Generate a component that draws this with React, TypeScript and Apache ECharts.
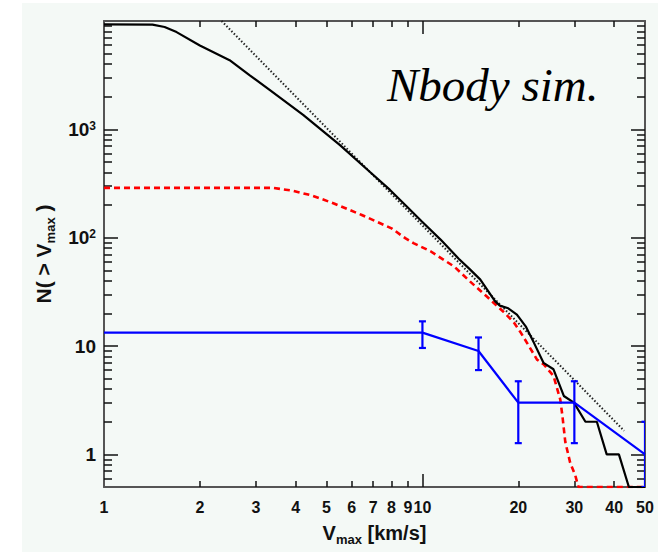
import React, { useEffect, useRef } from "react";
import * as echarts from "echarts";

// ---- axis ranges & ticks ----
const X_MIN = 1;
const X_MAX = 50;
const Y_MIN = 0.5;
const Y_MAX = 10000;
const xLabelValues = [1, 2, 3, 4, 5, 6, 7, 8, 9, 10, 20, 30, 40, 50];
const xMinorTicks = [2, 3, 4, 5, 6, 7, 8, 9, 20, 30, 40];
const xMajorTicks = [10];
const yLabelValues = [1, 10, 100, 1000];
const yMinorTicks = [
  0.6, 0.7, 0.8, 0.9, 2, 3, 4, 5, 6, 7, 8, 9, 20, 30, 40, 50, 60, 70, 80, 90,
  200, 300, 400, 500, 600, 700, 800, 900, 2000, 3000, 4000, 5000, 6000, 7000, 8000, 9000,
];
const yMajorTicks = [1, 10, 100, 1000];

// ---- N-body cumulative Vmax function (black solid) ----
const nbodyV = [1, 1.42, 1.55, 1.69, 2.0, 2.48, 2.87, 3.32, 4.23, 5.51, 6.83, 7.91, 8.93, 9.96, 11.4, 13.0, 14.1, 15.2, 16.9, 17.5, 18.6, 19.8, 21.1, 22.4, 24.0, 25.8, 27.8, 29.9, 32.5, 35.3, 37.9, 41.4, 44.5, 50];
const nbodyN = [9300, 9250, 8800, 7900, 5950, 4350, 3150, 2300, 1350, 716, 406, 276, 194, 141, 96, 64, 51, 41, 26, 23.6, 22.3, 19.5, 15.2, 10.7, 7.0, 6.1, 3.46, 3.0, 2, 2, 1, 1, 0.5, 0.5];

// ---- power-law fit (black dotted) ----
const fitV = [2.34, 43];
const fitN = [10000, 1.65];

// ---- red dashed ----
const redV = [1, 3.4, 3.9, 4.5, 5.25, 6.45, 8.0, 8.83, 9.37, 10.6, 12.6, 14.1, 15.9, 18.0, 19.4, 20.3, 21.3, 22.9, 24.0, 25.8, 27.1, 27.5, 28.1, 29.1, 30.2, 30.9, 50];
const redN = [288, 288, 272, 245, 208, 162, 122, 99, 89, 75, 54, 39.5, 28.8, 20.6, 16.4, 13.5, 10.7, 7.5, 6.8, 5.3, 3.2, 2.3, 1.3, 0.84, 0.64, 0.5, 0.5];

// ---- blue observed satellites with error bars ----
const blueV = [1, 10, 15, 20, 30, 50];
const blueN = [13.3, 13.3, 9, 3, 3, 1];
const errV = [10, 15, 20, 30, 50];
const errLow = [9.6, 6, 1.27, 1.27, 0];
const errHigh = [16.9, 12, 4.73, 4.73, 2];

const FONT = "'Liberation Sans', Arial, Helvetica, sans-serif";
const AXIS_LINE = "#555";
const TICK = "#111";

const zip = (a: number[], b: number[]) => a.map((v, i) => [v, b[i]]);

function xAxisDef(position: "top" | "bottom", major: boolean, withLabels: boolean): any {
  return {
    type: "log",
    logBase: 10,
    min: X_MIN,
    max: X_MAX,
    position,
    axisLine: { show: !major, onZero: false, lineStyle: { color: AXIS_LINE, width: 2 } },
    axisTick: {
      show: true,
      inside: true,
      length: major ? 13 : 6,
      customValues: major ? xMajorTicks : xMinorTicks,
      lineStyle: { color: TICK, width: 1.5 },
    },
    axisLabel: withLabels
      ? {
          show: true,
          customValues: xLabelValues,
          interval: 0,
          margin: 12,
          fontSize: 16,
          fontWeight: "bold",
          fontFamily: FONT,
          color: "#111",
          formatter: (v: number) => String(Math.round(v)),
        }
      : { show: false },
    splitLine: { show: false },
    minorTick: { show: false },
    minorSplitLine: { show: false },
    ...(withLabels
      ? {
          name: "{v|V}{s|max}{v| [km/s]}",
          nameLocation: "middle",
          nameGap: 33,
          nameTextStyle: {
            rich: {
              v: { fontSize: 20, fontWeight: "bold", fontFamily: FONT, color: "#111", lineHeight: 26 },
              s: { fontSize: 13, fontWeight: "bold", fontFamily: FONT, color: "#111", lineHeight: 13, verticalAlign: "bottom" },
            },
          },
        }
      : {}),
  };
}

function yAxisDef(position: "left" | "right", major: boolean, withLabels: boolean): any {
  return {
    type: "log",
    logBase: 10,
    min: Y_MIN,
    max: Y_MAX,
    position,
    axisLine: { show: !major, onZero: false, lineStyle: { color: AXIS_LINE, width: 2 } },
    axisTick: {
      show: true,
      inside: true,
      length: major ? 14 : 8,
      customValues: major ? yMajorTicks : yMinorTicks,
      lineStyle: { color: TICK, width: 1.5 },
    },
    axisLabel: withLabels
      ? {
          show: true,
          customValues: yLabelValues,
          interval: 0,
          margin: 8,
          fontSize: 19,
          fontWeight: "bold",
          fontFamily: FONT,
          color: "#111",
          formatter: (v: number) => {
            const e = Math.round(Math.log10(v));
            if (e <= 1) return String(Math.round(v));
            return "10{s|" + e + "}";
          },
          rich: {
            s: { fontSize: 12, fontWeight: "bold", fontFamily: FONT, color: "#111", verticalAlign: "top", lineHeight: 12 },
          },
        }
      : { show: false },
    splitLine: { show: false },
    minorTick: { show: false },
    minorSplitLine: { show: false },
    ...(withLabels
      ? {
          name: "{v|N( > V}{s|max}{v| )}",
          nameLocation: "middle",
          nameRotate: 90,
          nameGap: 40,
          nameTextStyle: {
            rich: {
              v: { fontSize: 21, fontWeight: "bold", fontFamily: FONT, color: "#111", lineHeight: 27 },
              s: { fontSize: 13, fontWeight: "bold", fontFamily: FONT, color: "#111", lineHeight: 13, verticalAlign: "bottom" },
            },
          },
        }
      : {}),
  };
}

export default function App() {
  const ref = useRef<HTMLDivElement>(null);

  useEffect(() => {
    if (!ref.current) return;
    const chart = echarts.init(ref.current, undefined, { renderer: "svg" });

    const errData = errV.map((v, i) => [v, errLow[i], errHigh[i]]);

    const option: any = {
      animation: false,
      backgroundColor: "#ffffff",
      graphic: [
        {
          type: "rect",
          z: -100,
          silent: true,
          shape: { x: 22, y: 3, width: 636, height: 549 },
          style: { fill: "#f4f9f6" },
        },
        {
          type: "text",
          z: 100,
          x: 387,
          y: 85,
          style: {
            text: "Nbody sim.",
            font: "italic 47px 'Liberation Serif', 'Times New Roman', serif",
            fill: "#000",
            align: "left",
            verticalAlign: "middle",
          },
        },
      ],
      grid: { left: 104, top: 21, width: 541, height: 466, containLabel: false },
      xAxis: [
        xAxisDef("bottom", false, true),
        xAxisDef("bottom", true, false),
        xAxisDef("top", false, false),
        xAxisDef("top", true, false),
      ],
      yAxis: [
        yAxisDef("left", false, true),
        yAxisDef("left", true, false),
        yAxisDef("right", false, false),
        yAxisDef("right", true, false),
      ],
      series: [
        {
          type: "line",
          name: "fit",
          data: zip(fitV, fitN),
          showSymbol: false,
          symbol: "none",
          lineStyle: { color: "#222", width: 2, type: [1.5, 2] },
          z: 2,
        },
        {
          type: "line",
          name: "red",
          data: zip(redV, redN),
          showSymbol: false,
          symbol: "none",
          lineStyle: { color: "#ff0000", width: 2.6, type: [6, 4] },
          z: 3,
        },
        {
          type: "line",
          name: "nbody",
          data: zip(nbodyV, nbodyN),
          showSymbol: false,
          symbol: "none",
          lineStyle: { color: "#000", width: 2.2 },
          z: 4,
        },
        {
          type: "line",
          name: "obs",
          data: zip(blueV, blueN),
          showSymbol: false,
          symbol: "none",
          lineStyle: { color: "#0000ff", width: 2.2 },
          z: 5,
        },
        {
          type: "custom",
          name: "err",
          clip: true,
          z: 6,
          encode: { x: 0, y: [1, 2] },
          data: errData,
          renderItem: (params: any, api: any) => {
            const x = api.value(0);
            const lo = Math.max(api.value(1), Y_MIN);
            const hi = api.value(2);
            const pHi = api.coord([x, hi]);
            const pLo = api.coord([x, lo]);
            const hw = 3.5;
            const st = { stroke: "#0000ff", lineWidth: 2.2 };
            return {
              type: "group",
              children: [
                { type: "line", shape: { x1: pHi[0], y1: pHi[1], x2: pLo[0], y2: pLo[1] }, style: st },
                { type: "line", shape: { x1: pHi[0] - hw, y1: pHi[1], x2: pHi[0] + hw, y2: pHi[1] }, style: st },
                { type: "line", shape: { x1: pLo[0] - hw, y1: pLo[1], x2: pLo[0] + hw, y2: pLo[1] }, style: st },
              ],
            };
          },
        },
      ],
    };

    chart.setOption(option);
    return () => chart.dispose();
  }, []);

  return (
    <div
      ref={ref}
      style={{ position: "fixed", left: 0, top: 0, width: 658, height: 552 }}
    />
  );
}
